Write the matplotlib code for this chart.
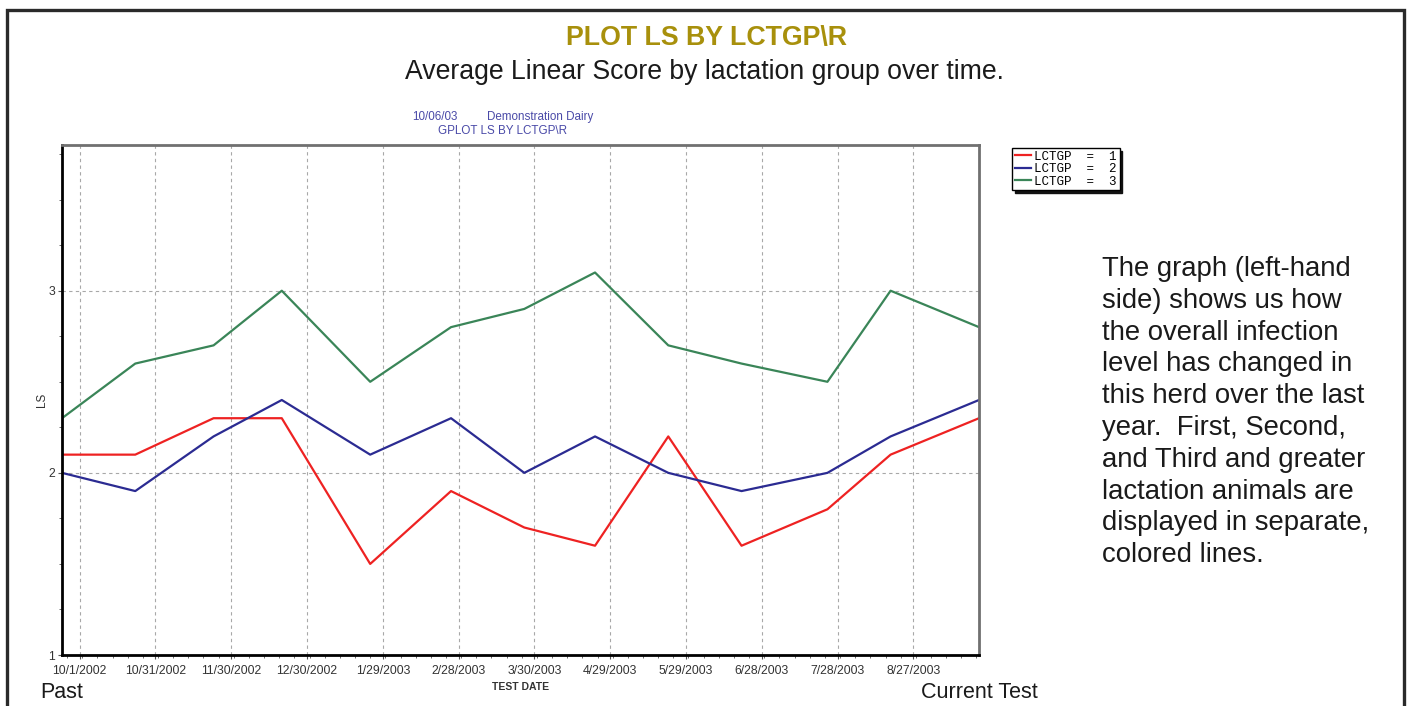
import numpy as np
import pandas as pd
import matplotlib
matplotlib.use("Agg")
import matplotlib.pyplot as plt
import matplotlib.dates as mdates
from matplotlib.patches import Rectangle

plt.rcParams['font.family'] = ['Liberation Sans', 'DejaVu Sans']

# test dates and average linear score per lactation group
test_dates = pd.to_datetime([
    "2002-09-24", "2002-10-23", "2002-11-23", "2002-12-20", "2003-01-24",
    "2003-02-25", "2003-03-26", "2003-04-23", "2003-05-22", "2003-06-20",
    "2003-07-24", "2003-08-18", "2003-09-22"])
ls_lact1 = [2.1, 2.1, 2.3, 2.3, 1.5, 1.9, 1.7, 1.6, 2.2, 1.6, 1.8, 2.1, 2.3]
ls_lact2 = [2.0, 1.9, 2.2, 2.4, 2.1, 2.3, 2.0, 2.2, 2.0, 1.9, 2.0, 2.2, 2.4]
ls_lact3 = [2.3, 2.6, 2.7, 3.0, 2.5, 2.8, 2.9, 3.1, 2.7, 2.6, 2.5, 3.0, 2.8]

series_labels = ["LCTGP  =  1", "LCTGP  =  2", "LCTGP  =  3"]
series_colors = ["#ee2222", "#2b2b92", "#3a8558"]

tick_labels = ["10/1/2002", "10/31/2002", "11/30/2002", "12/30/2002",
               "1/29/2003", "2/28/2003", "3/30/2003", "4/29/2003",
               "5/29/2003", "6/28/2003", "7/28/2003", "8/27/2003"]
tick_dates = pd.to_datetime(tick_labels, format="%m/%d/%Y")

side_text = ("The graph (left-hand\nside) shows us how\nthe overall infection\n"
             "level has changed in\nthis herd over the last\nyear.  First, Second,\n"
             "and Third and greater\nlactation animals are\ndisplayed in separate,\n"
             "colored lines.")

W, H = 1408, 706
fig = plt.figure(figsize=(W / 100, H / 100), dpi=100)
fig.patch.set_facecolor('white')

# outer page frame (open at the bottom)
fig.add_artist(Rectangle((7 / W, -0.05), (1404 - 7) / W, 1.05 - 10 / H,
                         transform=fig.transFigure, fill=False,
                         edgecolor='#2a2a2a', linewidth=2.4))

ax = fig.add_axes([62 / W, 1 - 655 / H, (979 - 62) / W, (655 - 145) / H])

for vals, lab, col in zip([ls_lact1, ls_lact2, ls_lact3], series_labels, series_colors):
    ax.plot(test_dates, vals, color=col, linewidth=1.6, label=lab)

ax.set_xlim(test_dates[0], test_dates[-1])
ax.set_ylim(1, 3.8)
ax.set_yticks([1, 2, 3])
ax.set_yticks(np.arange(1, 3.8, 0.25), minor=True)
ax.set_xticks(tick_dates)
ax.set_xticklabels(tick_labels)
ax.xaxis.set_minor_locator(mdates.DayLocator(interval=6))

ax.grid(True, which='major', color='#a8a8a8', linestyle=(0, (3, 3)), linewidth=0.8)
ax.tick_params(axis='both', which='major', labelsize=8.8, labelcolor='#333333',
               length=3, color='#555555', pad=2)
ax.tick_params(axis='x', which='major', pad=4)
ax.tick_params(axis='both', which='minor', length=2, color='#555555')

for side in ['left', 'bottom']:
    ax.spines[side].set_color('black')
    ax.spines[side].set_linewidth(2)
for side in ['top', 'right']:
    ax.spines[side].set_color('#707070')
    ax.spines[side].set_linewidth(2)

ax.set_xlabel('TEST DATE', fontsize=7.5, fontweight='bold', color='#333333', labelpad=4)
ax.set_ylabel('LS', fontsize=8.5, color='#333333', labelpad=0)

leg = ax.legend(loc='upper left', bbox_to_anchor=(1012 / W, 1 - 148 / H),
                bbox_transform=fig.transFigure, prop={'family': 'Liberation Mono', 'size': 9},
                frameon=True, fancybox=False, shadow={'color': '#111111', 'alpha': 1},
                edgecolor='black', framealpha=1, borderpad=0.2, labelspacing=0.05,
                handlelength=1.3, handletextpad=0.3, borderaxespad=0)
leg.get_frame().set_linewidth(1.0)

# titles
fig.text(707 / W, 1 - 38 / H, 'PLOT LS BY LCTGP\\R', ha='center', va='center',
         fontsize=19.3, fontweight='bold', color='#a8900c')
fig.text(704 / W, 1 - 72 / H, 'Average Linear Score by lactation group over time.',
         ha='center', va='center', fontsize=19.2, color='#1a1a1a')
fig.text(412 / W, 1 - 117 / H, '10/06/03', ha='left', va='center',
         fontsize=8.4, color='#4a4aa8')
fig.text(487 / W, 1 - 117 / H, 'Demonstration Dairy', ha='left', va='center',
         fontsize=8.4, color='#4a4aa8')
fig.text(503 / W, 1 - 131 / H, 'GPLOT LS BY LCTGP\\R', ha='center', va='center',
         fontsize=8.4, color='#4a4aa8')

fig.text(40 / W, 1 - 693 / H, 'Past', ha='left', va='center', fontsize=15.5, color='#1a1a1a')
fig.text(1038 / W, 1 - 693 / H, 'Current Test', ha='right', va='center',
         fontsize=15.5, color='#1a1a1a')

fig.text(1102 / W, 1 - 256 / H, side_text, ha='left', va='top', fontsize=19.8,
         color='#1a1a1a', linespacing=1.29)

fig.savefig('out.png', dpi=100, facecolor='white')
